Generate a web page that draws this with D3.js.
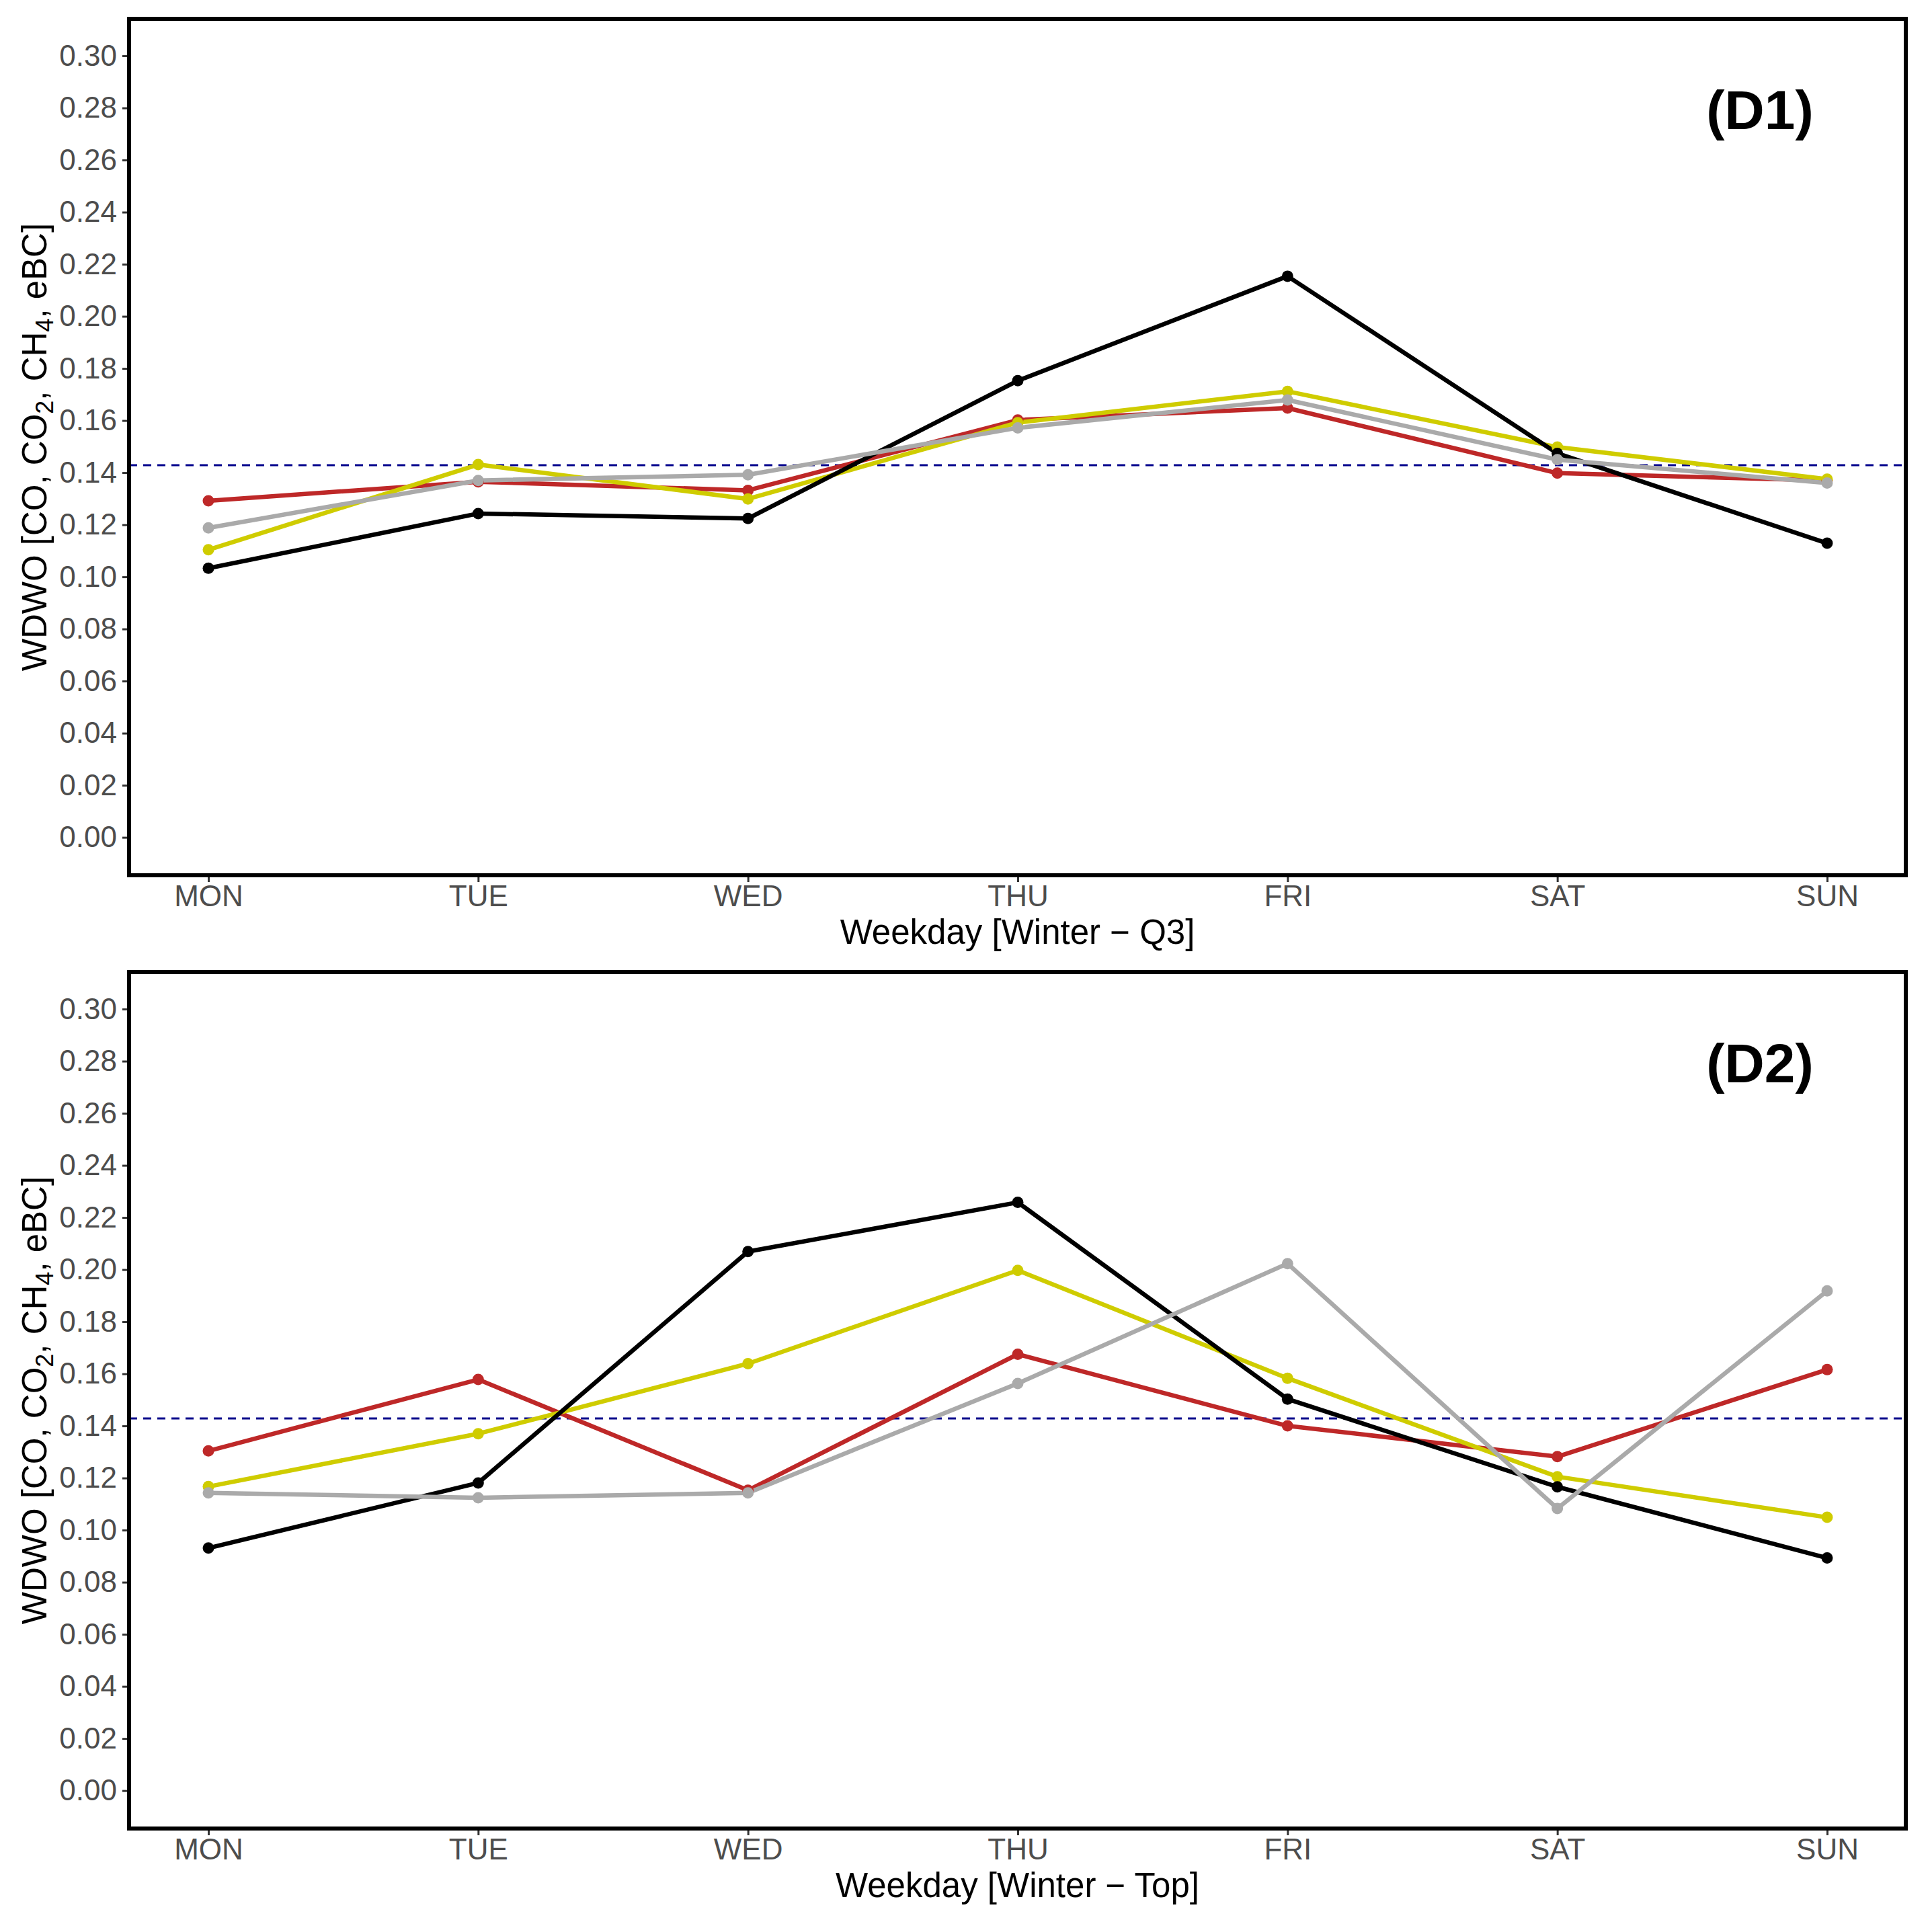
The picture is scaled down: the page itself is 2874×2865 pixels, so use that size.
<!DOCTYPE html>
<html>
<head>
<meta charset="utf-8">
<script src="https://cdn.jsdelivr.net/npm/d3@7"></script>
<style>
html,body{margin:0;padding:0;background:#fff;}
svg{display:block;}
text{font-family:"Liberation Sans",Arial,sans-serif;}
</style>
</head>
<body>
<script>
// ---------- data ----------
const days = ["MON","TUE","WED","THU","FRI","SAT","SUN"];
const yTicks = [0.00,0.02,0.04,0.06,0.08,0.10,0.12,0.14,0.16,0.18,0.20,0.22,0.24,0.26,0.28,0.30];
const refLine = 1/7;

const panelLabels = ["(D1)","(D2)"];
const xTitles = ["Weekday [Winter \u2212 Q3]","Weekday [Winter \u2212 Top]"];

const seriesNames = ["red","yellow","black","grey"];
const seriesColors = ["#BE2828","#CFCC00","#000000","#AAAAAA"];

// Panel D1 (Winter - Q3)
const d1Red    = [0.1292,0.1365,0.1332,0.1602,0.1648,0.1398,0.1370];
const d1Yellow = [0.1104,0.1431,0.1299,0.1592,0.1712,0.1498,0.1375];
const d1Black  = [0.1033,0.1243,0.1224,0.1753,0.2154,0.1474,0.1129];
const d1Grey   = [0.1188,0.1370,0.1392,0.1572,0.1679,0.1450,0.1360];

// Panel D2 (Winter - Top)
const d2Red    = [0.1304,0.1578,0.1153,0.1675,0.1400,0.1282,0.1616];
const d2Yellow = [0.1167,0.1370,0.1639,0.1997,0.1583,0.1205,0.1049];
const d2Black  = [0.0931,0.1181,0.2069,0.2258,0.1503,0.1166,0.0893];
const d2Grey   = [0.1143,0.1124,0.1143,0.1563,0.2023,0.1083,0.1918];

const panelsData = [
  [d1Red,d1Yellow,d1Black,d1Grey],
  [d2Red,d2Yellow,d2Black,d2Grey]
];

// ---------- layout ----------
const W = 2874, H = 2865;
const svg = d3.select("body").append("svg").attr("width",W).attr("height",H);

const left = 192, right = 2835;
const panelTops = [28, 1446];
const panelH = 1274;

const x = d3.scalePoint().domain(days).range([310, 2718]);

panelsData.forEach((series, pi) => {
  const top = panelTops[pi];
  const bottom = top + panelH;
  const y = d3.scaleLinear().domain([-0.01455, 0.3142]).range([bottom, top]);
  const g = svg.append("g");

  // reference dashed line
  g.append("line")
    .attr("x1", left).attr("x2", right)
    .attr("y1", y(refLine)).attr("y2", y(refLine))
    .attr("stroke","#00008B").attr("stroke-width",3.2)
    .attr("stroke-dasharray","12,9");

  const line = d3.line().x((d,i)=>x(days[i])).y(d=>y(d));
  series.forEach((vals, si) => {
    g.append("path").datum(vals)
      .attr("d", line)
      .attr("fill","none")
      .attr("stroke", seriesColors[si])
      .attr("stroke-width", 6.5)
      .attr("stroke-linejoin","round");
  });
  series.forEach((vals, si) => {
    g.selectAll(null).data(vals).enter().append("circle")
      .attr("cx",(d,i)=>x(days[i]))
      .attr("cy",d=>y(d))
      .attr("r",8.5)
      .attr("fill",seriesColors[si]);
  });

  // axes
  const yAxis = d3.axisLeft(y).tickValues(yTicks).tickFormat(d3.format(".2f"))
    .tickSize(8).tickPadding(8);
  const ya = g.append("g").attr("transform",`translate(${left-2},0)`).call(yAxis);
  ya.select(".domain").remove();
  ya.selectAll(".tick line").attr("stroke","#333333").attr("stroke-width",3);
  ya.selectAll(".tick text").attr("fill","#4D4D4D").style("font-size","44px")
    .style("font-family","'Liberation Sans', Arial, sans-serif");

  const xAxis = d3.axisBottom(x).tickSize(7).tickPadding(5);
  const xa = g.append("g").attr("transform",`translate(0,${bottom+3})`).call(xAxis);
  xa.select(".domain").remove();
  xa.selectAll(".tick line").attr("stroke","#333333").attr("stroke-width",3);
  xa.selectAll(".tick text").attr("fill","#4D4D4D").style("font-size","44px")
    .style("font-family","'Liberation Sans', Arial, sans-serif");

  // panel border
  g.append("rect")
    .attr("x",left).attr("y",top)
    .attr("width",right-left).attr("height",panelH)
    .attr("fill","none").attr("stroke","#000").attr("stroke-width",6);

  // x title
  g.append("text")
    .attr("x",(left+right)/2).attr("y",bottom+102)
    .attr("text-anchor","middle")
    .style("font-size","51px").attr("fill","#000")
    .text(xTitles[pi]);

  // y title with subscripts
  const yt = g.append("text")
    .attr("transform",`translate(69,${(top+bottom)/2}) rotate(-90)`)
    .attr("text-anchor","middle")
    .style("font-size","51px").attr("fill","#000");
  const parts = [
    {t:"WDWO [CO, CO"},{t:"2",sub:true},{t:", CH"},{t:"4",sub:true},{t:", eBC]"}
  ];
  parts.forEach((p,i)=>{
    const ts = yt.append("tspan").text(p.t);
    if(p.sub){ ts.style("font-size","36px").attr("dy","10"); }
    else if(i>0){ ts.attr("dy","-10"); }
  });

  // panel label
  g.append("text")
    .attr("x",2618).attr("y",top+164)
    .attr("text-anchor","middle")
    .style("font-size","82px").style("font-weight","bold").attr("fill","#000")
    .text(panelLabels[pi]);
});
</script>
</body>
</html>
